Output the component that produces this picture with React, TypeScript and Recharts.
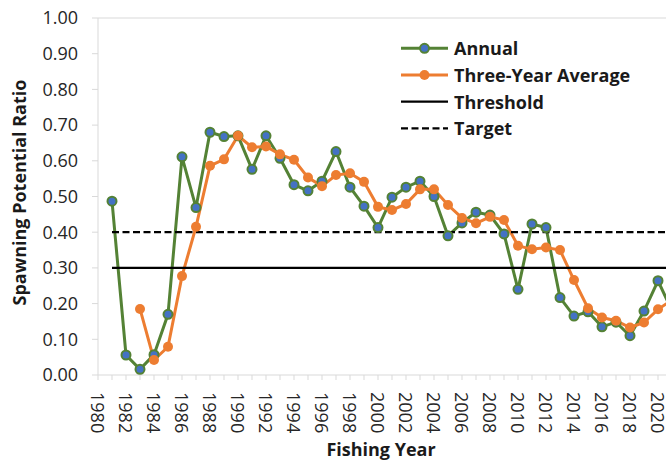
import React from 'react';
import { LineChart, Line, XAxis, YAxis, ReferenceLine, Legend } from 'recharts';

const annualYears = [
  1981, 1982, 1983, 1984, 1985, 1986, 1987, 1988, 1989, 1990,
  1991, 1992, 1993, 1994, 1995, 1996, 1997, 1998, 1999, 2000,
  2001, 2002, 2003, 2004, 2005, 2006, 2007, 2008, 2009, 2010,
  2011, 2012, 2013, 2014, 2015, 2016, 2017, 2018, 2019, 2020, 2021,
];
const annualValues = [
  0.487, 0.056, 0.016, 0.057, 0.170, 0.611, 0.469, 0.680, 0.668, 0.670,
  0.576, 0.670, 0.607, 0.533, 0.516, 0.543, 0.626, 0.526, 0.473, 0.413,
  0.498, 0.526, 0.543, 0.500, 0.390, 0.426, 0.456, 0.448, 0.395, 0.240,
  0.423, 0.413, 0.217, 0.165, 0.177, 0.135, 0.148, 0.110, 0.179, 0.264, 0.180,
];
const averageYears = [
  1983, 1984, 1985, 1986, 1987, 1988, 1989, 1990,
  1991, 1992, 1993, 1994, 1995, 1996, 1997, 1998, 1999, 2000,
  2001, 2002, 2003, 2004, 2005, 2006, 2007, 2008, 2009, 2010,
  2011, 2012, 2013, 2014, 2015, 2016, 2017, 2018, 2019, 2020, 2021,
];
const averageValues = [
  0.185, 0.042, 0.079, 0.277, 0.415, 0.586, 0.604, 0.670,
  0.638, 0.640, 0.618, 0.603, 0.553, 0.529, 0.560, 0.565, 0.541, 0.471,
  0.462, 0.479, 0.520, 0.520, 0.476, 0.440, 0.425, 0.443, 0.434, 0.362,
  0.352, 0.357, 0.350, 0.266, 0.187, 0.161, 0.152, 0.133, 0.147, 0.184, 0.210,
];
const thresholdValue = 0.3;
const targetValue = 0.4;

const xTicks = [
  1980, 1981, 1982, 1983, 1984, 1985, 1986, 1987, 1988, 1989, 1990,
  1991, 1992, 1993, 1994, 1995, 1996, 1997, 1998, 1999, 2000,
  2001, 2002, 2003, 2004, 2005, 2006, 2007, 2008, 2009, 2010,
  2011, 2012, 2013, 2014, 2015, 2016, 2017, 2018, 2019, 2020, 2021, 2022,
];
const yTicks = [0, 0.1, 0.2, 0.3, 0.4, 0.5, 0.6, 0.7, 0.8, 0.9, 1.0];

const seriesNames = ['Annual', 'Three-Year Average', 'Threshold', 'Target'];
const xTitle = 'Fishing Year';
const yTitle = 'Spawning Potential Ratio';

const GREEN = '#548235';
const BLUE = '#4472C4';
const ORANGE = '#ED7D31';
const FONT = '"Open Sans", sans-serif';

const rows = annualYears.map((year, i) => {
  const ai = averageYears.indexOf(year);
  return {
    year,
    annual: annualValues[i],
    average: ai >= 0 ? averageValues[ai] : undefined,
    threshold: thresholdValue,
    target: targetValue,
  };
});

const XTick = (props: any) => {
  const { x, y, payload } = props;
  if (payload.value % 2 !== 0) return <g />;
  return (
    <text
      x={x}
      y={y}
      transform={`rotate(90, ${x}, ${y})`}
      textAnchor="start"
      dominantBaseline="central"
      fontSize={18}
      fill="#262626"
      fontFamily={FONT}
    >
      {payload.value}
    </text>
  );
};

const LegendContent = () => (
  <svg width={260} height={110} style={{ display: 'block' }}>
    {seriesNames.map((name, i) => {
      const cy = 13.3 + i * 26.7;
      let line: React.ReactNode = null;
      if (i === 0) {
        line = (
          <g>
            <line x1={1} x2={48} y1={cy} y2={cy} stroke={GREEN} strokeWidth={3} />
            <circle cx={24.5} cy={cy} r={4.5} fill={BLUE} stroke={GREEN} strokeWidth={2} />
          </g>
        );
      } else if (i === 1) {
        line = (
          <g>
            <line x1={1} x2={48} y1={cy} y2={cy} stroke={ORANGE} strokeWidth={3} />
            <circle cx={24.5} cy={cy} r={5} fill={ORANGE} />
          </g>
        );
      } else if (i === 2) {
        line = <line x1={1} x2={48} y1={cy} y2={cy} stroke="#000" strokeWidth={2.25} />;
      } else {
        line = (
          <line x1={1} x2={48} y1={cy} y2={cy} stroke="#000" strokeWidth={2.25} strokeDasharray="7 3.5" />
        );
      }
      return (
        <g key={name}>
          {line}
          <text
            x={54}
            y={cy}
            dominantBaseline="central"
            fontSize={18}
            fontWeight="bold"
            fill="#1a1a1a"
            fontFamily={FONT}
          >
            {name}
          </text>
        </g>
      );
    })}
  </svg>
);

export default function App() {
  return (
    <div
      style={{
        position: 'absolute',
        left: 0,
        top: 0,
        width: 666,
        height: 461,
        overflow: 'hidden',
        background: '#fff',
      }}
    >
      <LineChart
        width={700}
        height={461}
        data={rows}
        margin={{ top: 18, right: 14, bottom: 0, left: 0 }}
      >
        <XAxis
          dataKey="year"
          type="number"
          domain={[1980, 2022]}
          ticks={xTicks}
          interval={0}
          height={86}
          tickSize={5}
          tickMargin={12}
          stroke="#d9d9d9"
          tick={<XTick />}
          label={{
            content: (p: any) => {
              const vb = p.viewBox;
              return (
                <text
                  x={vb.x + vb.width / 2 - 11}
                  y={456}
                  textAnchor="middle"
                  fontSize={18}
                  fontWeight="bold"
                  fill="#1a1a1a"
                  fontFamily={FONT}
                >
                  {xTitle}
                </text>
              );
            },
          }}
        />
        <YAxis
          type="number"
          domain={[0, 1]}
          ticks={yTicks}
          width={98}
          tickSize={6}
          tickMargin={14}
          stroke="#d9d9d9"
          tick={{ fill: '#262626', fontSize: 18, fontFamily: FONT }}
          tickFormatter={(v: number) => v.toFixed(2)}
          label={{
            content: (p: any) => {
              const vb = p.viewBox;
              const cx = vb.x + 26;
              const cy = vb.y + vb.height / 2 - 4;
              return (
                <text
                  x={cx}
                  y={cy}
                  transform={`rotate(-90, ${cx}, ${cy})`}
                  textAnchor="middle"
                  fontSize={18}
                  fontWeight="bold"
                  fill="#1a1a1a"
                  fontFamily={FONT}
                >
                  {yTitle}
                </text>
              );
            },
          }}
        />
        <ReferenceLine y={1} stroke="#d9d9d9" strokeWidth={1} />
        <Line
          dataKey="annual"
          name={seriesNames[0]}
          stroke={GREEN}
          strokeWidth={3}
          dot={{ r: 4.5, fill: BLUE, stroke: GREEN, strokeWidth: 2 }}
          activeDot={false}
          isAnimationActive={false}
        />
        <Line
          dataKey="average"
          name={seriesNames[1]}
          stroke={ORANGE}
          strokeWidth={3}
          dot={{ r: 5, fill: ORANGE, stroke: ORANGE, strokeWidth: 0 }}
          activeDot={false}
          isAnimationActive={false}
        />
        <Line
          dataKey="threshold"
          name={seriesNames[2]}
          stroke="#000"
          strokeWidth={2.25}
          dot={false}
          activeDot={false}
          isAnimationActive={false}
        />
        <Line
          dataKey="target"
          name={seriesNames[3]}
          stroke="#000"
          strokeWidth={2.25}
          strokeDasharray="7 3.5"
          dot={false}
          activeDot={false}
          isAnimationActive={false}
        />
        <Legend
          layout="vertical"
          align="center"
          verticalAlign="middle"
          content={<LegendContent />}
          wrapperStyle={{ position: 'absolute', left: 400, top: 35, width: 260, height: 110 }}
        />
      </LineChart>
    </div>
  );
}
